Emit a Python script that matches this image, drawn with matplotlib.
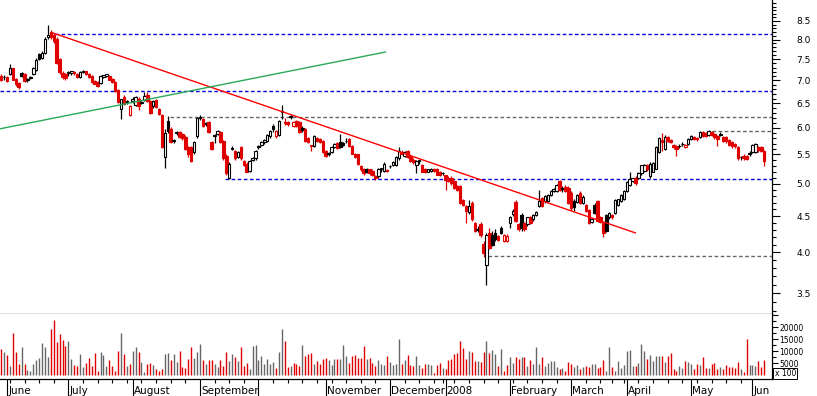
import numpy as np
import pandas as pd
import matplotlib
matplotlib.use("Agg")
import matplotlib.pyplot as plt
import matplotlib.transforms as mtransforms
from matplotlib.ticker import FixedLocator, NullFormatter, FuncFormatter

# daily candles, one per trading day (30 May 2007 - 6 Jun 2008)
opens = [
    7.11, 7.07, 7.08, 7.16, 7.28, 7.04, 6.95, 7.18, 7.16, 7.02,
    7.06, 7.16, 7.25, 7.63, 7.53, 7.65, 8.06, 8.20, 8.12, 8.01,
    7.51, 7.18, 7.16, 7.18, 7.18, 7.20, 7.16, 7.09, 7.20, 7.21,
    7.16, 7.11, 6.99, 6.97, 6.95, 7.09, 7.11, 7.11, 7.04, 6.97,
    6.78, 6.37, 6.63, 6.52, 6.25, 6.54, 6.46, 6.58, 6.50, 6.56,
    6.67, 6.54, 6.44, 6.56, 6.37, 6.25, 5.46, 6.13, 5.98, 5.75,
    5.90, 5.92, 5.88, 5.83, 5.64, 5.64, 5.55, 5.84, 6.19, 6.17,
    6.07, 6.11, 5.73, 5.84, 5.88, 5.92, 5.75, 5.48, 5.09, 5.60,
    5.57, 5.46, 5.64, 5.39, 5.34, 5.22, 5.41, 5.43, 5.64, 5.68,
    5.72, 5.75, 5.84, 6.03, 5.84, 5.86, 6.31, 6.11, 6.11, 6.21,
    6.03, 6.13, 6.11, 5.99, 5.98, 5.81, 5.67, 5.66, 5.81, 5.79,
    5.75, 5.57, 5.51, 5.55, 5.64, 5.71, 5.73, 5.71, 5.74, 5.79,
    5.66, 5.51, 5.50, 5.29, 5.25, 5.25, 5.24, 5.22, 5.12, 5.12,
    5.24, 5.22, 5.22, 5.29, 5.31, 5.31, 5.43, 5.55, 5.48, 5.56,
    5.48, 5.40, 5.31, 5.38, 5.31, 5.25, 5.20, 5.22, 5.25, 5.25,
    5.20, 5.17, 5.14, 5.10, 5.10, 5.04, 4.96, 4.96, 4.74, 4.65,
    4.56, 4.70, 4.40, 4.32, 4.39, 4.11, 3.84, 4.26, 4.23, 4.26,
    4.21, 4.33, 4.15, 4.15, 4.40, 4.53, 4.71, 4.39, 4.52, 4.40,
    4.38, 4.48, 4.45, 4.52, 4.65, 4.77, 4.73, 4.73, 4.82, 4.88,
    4.88, 5.04, 4.93, 4.95, 4.93, 4.85, 4.73, 4.71, 4.85, 4.70,
    4.67, 4.59, 4.42, 4.67, 4.73, 4.49, 4.40, 4.51, 4.48, 4.52,
    4.55, 4.67, 4.73, 4.76, 4.88, 4.98, 5.04, 5.09, 5.09, 5.17,
    5.21, 5.31, 5.12, 5.20, 5.25, 5.55, 5.77, 5.60, 5.83, 5.77,
    5.68, 5.66, 5.65, 5.69, 5.64, 5.69, 5.79, 5.83, 5.81, 5.83,
    5.92, 5.90, 5.86, 5.92, 5.88, 5.84, 5.87, 5.83, 5.82, 5.77,
    5.73, 5.69, 5.64, 5.45, 5.48, 5.47, 5.52, 5.55, 5.55, 5.64,
    5.63, 5.57]
highs = [
    7.16, 7.13, 7.11, 7.39, 7.30, 7.06, 6.97, 7.20, 7.18, 7.06,
    7.11, 7.32, 7.53, 7.65, 7.70, 8.06, 8.39, 8.25, 8.17, 8.06,
    7.53, 7.22, 7.18, 7.22, 7.22, 7.22, 7.18, 7.22, 7.25, 7.23,
    7.18, 7.13, 7.02, 6.99, 7.13, 7.13, 7.16, 7.13, 7.06, 6.99,
    6.80, 6.58, 6.67, 6.56, 6.46, 6.63, 6.65, 6.63, 6.54, 6.74,
    6.74, 6.56, 6.56, 6.58, 6.40, 6.27, 5.98, 6.23, 6.01, 5.79,
    5.94, 5.94, 5.90, 5.86, 5.66, 5.66, 5.75, 6.21, 6.25, 6.19,
    6.11, 6.13, 5.75, 5.88, 5.96, 5.94, 5.77, 5.50, 5.36, 5.66,
    5.58, 5.57, 5.66, 5.41, 5.36, 5.41, 5.45, 5.58, 5.68, 5.75,
    5.79, 5.88, 5.96, 6.07, 5.96, 6.15, 6.46, 6.19, 6.13, 6.25,
    6.13, 6.15, 6.13, 6.03, 6.00, 5.83, 5.68, 5.86, 5.83, 5.81,
    5.77, 5.58, 5.55, 5.66, 5.71, 5.73, 5.88, 5.73, 5.81, 5.81,
    5.68, 5.53, 5.51, 5.31, 5.27, 5.27, 5.25, 5.24, 5.14, 5.27,
    5.27, 5.36, 5.25, 5.32, 5.38, 5.48, 5.64, 5.58, 5.57, 5.58,
    5.50, 5.44, 5.41, 5.41, 5.34, 5.27, 5.25, 5.26, 5.27, 5.27,
    5.22, 5.20, 5.15, 5.12, 5.12, 5.06, 4.98, 4.98, 4.76, 4.67,
    4.74, 4.73, 4.42, 4.36, 4.42, 4.15, 4.26, 4.33, 4.29, 4.31,
    4.23, 4.36, 4.25, 4.24, 4.50, 4.60, 4.74, 4.40, 4.55, 4.42,
    4.49, 4.50, 4.53, 4.58, 4.90, 4.79, 4.82, 4.84, 4.90, 4.93,
    4.99, 5.06, 4.96, 4.98, 4.96, 4.88, 4.76, 4.84, 4.88, 4.82,
    4.68, 4.61, 4.46, 4.70, 4.74, 4.50, 4.42, 4.53, 4.56, 4.53,
    4.76, 4.76, 4.84, 4.90, 5.04, 5.20, 5.10, 5.12, 5.19, 5.32,
    5.34, 5.33, 5.36, 5.36, 5.66, 5.83, 5.90, 5.86, 5.85, 5.79,
    5.69, 5.68, 5.69, 5.73, 5.70, 5.81, 5.86, 5.85, 5.83, 5.94,
    5.94, 5.92, 5.96, 5.94, 5.90, 5.86, 5.92, 5.85, 5.84, 5.79,
    5.75, 5.71, 5.66, 5.48, 5.50, 5.49, 5.56, 5.70, 5.71, 5.66,
    5.65, 5.58]
lows = [
    6.99, 7.02, 6.97, 7.13, 7.00, 6.88, 6.80, 7.09, 6.97, 6.97,
    7.04, 7.13, 7.22, 7.49, 7.50, 7.62, 8.01, 8.01, 7.90, 7.39,
    7.16, 7.04, 7.02, 7.11, 7.13, 7.13, 7.06, 7.06, 7.18, 7.13,
    7.06, 6.95, 6.91, 6.86, 6.93, 7.06, 7.09, 7.00, 6.95, 6.74,
    6.50, 6.17, 6.46, 6.48, 6.23, 6.50, 6.44, 6.35, 6.48, 6.54,
    6.52, 6.27, 6.40, 6.40, 6.25, 5.62, 5.27, 5.90, 5.71, 5.71,
    5.86, 5.81, 5.77, 5.58, 5.46, 5.36, 5.50, 5.81, 6.15, 6.01,
    6.03, 5.90, 5.58, 5.71, 5.86, 5.71, 5.41, 5.15, 5.07, 5.58,
    5.41, 5.43, 5.41, 5.29, 5.19, 5.20, 5.38, 5.41, 5.60, 5.66,
    5.69, 5.73, 5.81, 5.92, 5.81, 5.84, 6.17, 6.05, 6.03, 6.17,
    6.01, 6.01, 5.90, 5.92, 5.73, 5.71, 5.57, 5.64, 5.73, 5.71,
    5.53, 5.46, 5.48, 5.53, 5.62, 5.60, 5.62, 5.66, 5.71, 5.64,
    5.50, 5.44, 5.32, 5.22, 5.15, 5.17, 5.14, 5.12, 5.06, 5.10,
    5.20, 5.20, 5.20, 5.27, 5.29, 5.29, 5.41, 5.50, 5.46, 5.44,
    5.36, 5.34, 5.17, 5.34, 5.19, 5.17, 5.19, 5.20, 5.20, 5.14,
    5.12, 5.14, 4.90, 5.02, 4.98, 4.91, 4.88, 4.68, 4.65, 4.40,
    4.53, 4.43, 4.27, 4.27, 4.20, 3.94, 3.60, 4.04, 4.08, 4.15,
    4.15, 4.24, 4.13, 4.13, 4.33, 4.50, 4.42, 4.29, 4.29, 4.28,
    4.36, 4.38, 4.43, 4.50, 4.63, 4.63, 4.70, 4.71, 4.80, 4.86,
    4.86, 4.88, 4.86, 4.86, 4.68, 4.59, 4.58, 4.69, 4.68, 4.68,
    4.56, 4.38, 4.40, 4.53, 4.42, 4.40, 4.20, 4.27, 4.46, 4.46,
    4.53, 4.65, 4.71, 4.74, 4.86, 4.96, 5.02, 4.98, 5.07, 5.15,
    5.19, 5.22, 5.10, 5.19, 5.24, 5.53, 5.57, 5.58, 5.73, 5.71,
    5.60, 5.48, 5.62, 5.66, 5.62, 5.68, 5.77, 5.77, 5.75, 5.81,
    5.83, 5.82, 5.85, 5.84, 5.79, 5.66, 5.84, 5.73, 5.71, 5.66,
    5.62, 5.62, 5.41, 5.41, 5.41, 5.40, 5.48, 5.53, 5.53, 5.55,
    5.54, 5.29]
closes = [
    7.02, 7.09, 6.99, 7.30, 7.02, 6.91, 6.86, 7.11, 6.99, 7.04,
    7.09, 7.30, 7.49, 7.52, 7.65, 8.01, 8.12, 8.06, 7.96, 7.42,
    7.20, 7.07, 7.05, 7.20, 7.21, 7.18, 7.09, 7.20, 7.23, 7.16,
    7.09, 6.97, 6.93, 6.88, 7.11, 7.12, 7.14, 7.02, 6.97, 6.76,
    6.52, 6.58, 6.48, 6.54, 6.44, 6.58, 6.63, 6.44, 6.52, 6.65,
    6.54, 6.29, 6.54, 6.42, 6.27, 5.64, 5.90, 5.94, 5.73, 5.77,
    5.92, 5.83, 5.81, 5.60, 5.51, 5.39, 5.73, 6.19, 6.21, 6.03,
    6.09, 5.92, 5.60, 5.86, 5.94, 5.73, 5.43, 5.17, 5.34, 5.62,
    5.43, 5.55, 5.43, 5.31, 5.20, 5.39, 5.43, 5.57, 5.66, 5.73,
    5.77, 5.86, 5.94, 5.98, 5.94, 6.13, 6.33, 6.09, 6.07, 6.23,
    6.11, 6.03, 5.92, 5.95, 5.75, 5.73, 5.66, 5.84, 5.75, 5.73,
    5.55, 5.48, 5.53, 5.64, 5.69, 5.62, 5.64, 5.68, 5.75, 5.66,
    5.51, 5.46, 5.34, 5.25, 5.17, 5.20, 5.17, 5.15, 5.09, 5.25,
    5.26, 5.34, 5.23, 5.30, 5.36, 5.46, 5.57, 5.51, 5.55, 5.46,
    5.38, 5.37, 5.39, 5.40, 5.20, 5.19, 5.24, 5.25, 5.22, 5.15,
    5.14, 5.18, 5.06, 5.04, 5.01, 4.93, 4.90, 4.70, 4.67, 4.58,
    4.65, 4.45, 4.29, 4.30, 4.23, 3.99, 4.23, 4.06, 4.09, 4.17,
    4.16, 4.26, 4.23, 4.22, 4.49, 4.58, 4.43, 4.32, 4.33, 4.32,
    4.48, 4.40, 4.52, 4.56, 4.73, 4.65, 4.81, 4.82, 4.88, 4.91,
    4.98, 4.90, 4.91, 4.88, 4.70, 4.62, 4.64, 4.82, 4.70, 4.79,
    4.58, 4.40, 4.45, 4.55, 4.43, 4.42, 4.26, 4.29, 4.55, 4.48,
    4.74, 4.75, 4.82, 4.88, 5.02, 5.07, 5.09, 5.01, 5.17, 5.31,
    5.32, 5.24, 5.34, 5.35, 5.64, 5.81, 5.73, 5.83, 5.75, 5.73,
    5.64, 5.60, 5.66, 5.70, 5.68, 5.79, 5.84, 5.79, 5.78, 5.92,
    5.85, 5.84, 5.94, 5.86, 5.83, 5.79, 5.88, 5.75, 5.74, 5.68,
    5.66, 5.65, 5.43, 5.46, 5.43, 5.42, 5.50, 5.68, 5.70, 5.58,
    5.57, 5.39]
# volume in hundreds of shares
volumes = [
    10900, 9500, 8400, 3900, 17700, 9700, 4700, 11700, 4700, 2200,
    1800, 4700, 6400, 7100, 13500, 11900, 7700, 19300, 22900, 13800,
    17200, 14600, 12100, 14200, 6800, 4300, 3900, 8800, 3600, 5300,
    7100, 3900, 9400, 2000, 9700, 8400, 3900, 6400, 3900, 2000,
    10200, 17700, 8800, 3900, 4700, 10200, 11700, 9500, 5700, 1500,
    4700, 5300, 4300, 2800, 2000, 2500, 8800, 9400, 6400, 8800,
    5700, 10100, 3600, 3100, 6800, 11700, 7200, 9700, 13100, 6400,
    4700, 6400, 6400, 4700, 3600, 6400, 3900, 9700, 6000, 8800,
    7700, 6100, 11900, 3900, 5300, 2600, 12100, 12700, 6400, 8000,
    4700, 6900, 4700, 5700, 3100, 9700, 19200, 14200, 3600, 3900,
    5300, 4700, 3900, 12600, 8000, 8800, 9400, 4700, 6000, 4700,
    6800, 7300, 6400, 4400, 6800, 6600, 6800, 12600, 8000, 5300,
    8000, 8400, 7300, 7300, 12100, 6800, 7300, 5300, 3900, 6400,
    4700, 4400, 8000, 5500, 4400, 4700, 15000, 4700, 6400, 8400,
    4300, 4000, 8000, 4300, 2900, 4700, 4700, 4200, 1100, 4200,
    5000, 2900, 2600, 6400, 6600, 8800, 9400, 14200, 11500, 6800,
    10200, 9700, 6000, 6000, 5400, 9800, 14400, 9400, 10500, 8800,
    3900, 10800, 2000, 4300, 7700, 5000, 7500, 6600, 7600, 7700,
    4000, 6400, 4700, 11600, 4700, 7500, 4000, 5300, 6000, 6000,
    3600, 2500, 2900, 1800, 5500, 4700, 3600, 4300, 2500, 3600,
    4000, 3600, 4700, 4700, 3200, 3600, 6400, 2000, 11900, 3600,
    2000, 6000, 2900, 4300, 10200, 10500, 4000, 4000, 5300, 12800,
    10100, 6800, 8400, 6100, 8000, 8000, 8000, 5700, 8000, 9100,
    2600, 1800, 4000, 2900, 6000, 5700, 4600, 2600, 4700, 4200,
    7700, 2900, 2900, 4700, 5300, 2500, 3600, 2600, 4300, 3600,
    3600, 2900, 5500, 2500, 1500, 15000, 4300, 4300, 4000, 6100,
    3600, 6400]

holidays = ['2007-12-25', '2007-12-26', '2008-01-01', '2008-03-21', '2008-03-24', '2008-05-26']
month_labels = ['June', 'July', 'August', 'September', '', 'November', 'December',
                '2008', 'February', 'March', 'April', 'May', 'Jun']

# drawn studies: trend lines (trading-day index, price) and support/resistance levels
red_trend_x, red_trend_y = [17.8, 216.9], [8.17, 4.26]
green_trend_x, green_trend_y = [-0.4, 131.4], [5.98, 7.68]
levels = [8.15, 6.76, 6.22, 5.94, 5.07, 3.95]
level_start = [18.4, -0.4, 57.8, 243.3, 76.6, 166.6]
level_blue = [True, True, False, False, True, False]

RED = '#e00000'
BLUE = '#0000e0'
GREY = '#666666'

days = pd.bdate_range('2007-05-30', '2008-06-06')
days = days[~days.isin(pd.to_datetime(holidays))]

o = np.array(opens); h = np.array(highs); l = np.array(lows); c = np.array(closes)
v = np.array(volumes)
x = np.arange(len(c))
prev = np.r_[o[0], c[:-1]]
down = c < prev
col = np.where(down, RED, 'black')
face = np.where(c >= o, 'white', col)

fig = plt.figure(figsize=(8.17, 3.96), dpi=100)
ax = fig.add_axes([0, 82 / 396, 771.5 / 817, 314 / 396])
axv = fig.add_axes([0, 17 / 396, 771.5 / 817, 65 / 396])

# levels and studies
XMAX = 263.5
for lev, x0, blue in zip(levels, level_start, level_blue):
    ax.plot([x0, XMAX], [lev, lev], color=BLUE if blue else GREY, lw=1.0,
            ls=(0, (2.6, 1.8)), zorder=1)

ax.vlines(x, l, h, colors=col, lw=0.9, zorder=2)
ax.bar(x, np.maximum(np.abs(c - o), 0.004), bottom=np.minimum(o, c), width=0.85,
       color=face, edgecolor=col, linewidth=0.8, zorder=3)

ax.plot(red_trend_x, red_trend_y, color='#ff0000', lw=1.0, zorder=4)
ax.plot(green_trend_x, green_trend_y, color='#2aa85a', lw=1.0, zorder=4)

ax.set_yscale('log')
ax.set_ylim(3.27, 9.10)
ax.set_xlim(-0.4, XMAX)
ax.yaxis.tick_right()
ax.yaxis.set_major_locator(FixedLocator(np.arange(3.5, 8.51, 0.5)))
ax.yaxis.set_minor_locator(FixedLocator(np.arange(3.3, 9.05, 0.1)))
ax.yaxis.set_major_formatter(FuncFormatter(lambda val, pos: f'{val:.1f}'))
ax.yaxis.set_minor_formatter(NullFormatter())
ax.tick_params(axis='y', which='major', length=5.8, width=0.8, labelsize=6.5, pad=12)
ax.tick_params(axis='y', which='minor', length=3.2, width=0.8)
ax.set_xticks([])
for s in ['top', 'left']:
    ax.spines[s].set_visible(False)
ax.spines['right'].set_linewidth(0.9)
ax.spines['bottom'].set_linewidth(0.9)

# volume panel
axv.vlines(x, 0, v, colors=np.where(down, RED, GREY), lw=1.0)
axv.set_xlim(-0.4, XMAX)
axv.set_ylim(-1500, 25400)
axv.yaxis.tick_right()
axv.yaxis.set_major_locator(FixedLocator([5000, 10000, 15000, 20000, 25000]))
axv.yaxis.set_minor_locator(FixedLocator(np.arange(2500, 25000, 5000)))
axv.yaxis.set_major_formatter(FuncFormatter(lambda val, pos: '' if val > 20000 else f'{val:.0f}'))
axv.tick_params(axis='y', which='major', length=4.3, width=0.8, labelsize=5.5, pad=1.5)
axv.tick_params(axis='y', which='minor', length=2.8, width=0.8)
for s in ['top', 'left']:
    axv.spines[s].set_visible(False)
axv.spines['right'].set_linewidth(0.9)
axv.spines['bottom'].set_linewidth(0.9)
axv.text(1.004, 0.085, 'x 100', transform=axv.transAxes, fontsize=5.5, ha='left',
         va='center', clip_on=False,
         bbox=dict(boxstyle='square,pad=0.15', fc='white', ec='black', lw=0.7))

# month and week ticks
month_start = [i for i in range(1, len(days)) if days[i].month != days[i - 1].month]
week_start = [i for i in range(1, len(days))
              if days[i].isocalendar()[1] != days[i - 1].isocalendar()[1]]
axv.set_xticks(month_start)
axv.set_xticks(week_start, minor=True)
axv.set_xticklabels([])
axv.tick_params(axis='x', which='major', length=12.2, width=0.8, direction='out')
axv.tick_params(axis='x', which='minor', length=3.0, width=0.8, direction='out')
trans = mtransforms.blended_transform_factory(axv.transData, axv.transAxes)
for i, lab in zip(month_start, month_labels):
    axv.text(i + 0.4, -0.231, lab, transform=trans, fontsize=7.5, ha='left',
             va='baseline', clip_on=False)

fig.savefig('out.png', dpi=100)
